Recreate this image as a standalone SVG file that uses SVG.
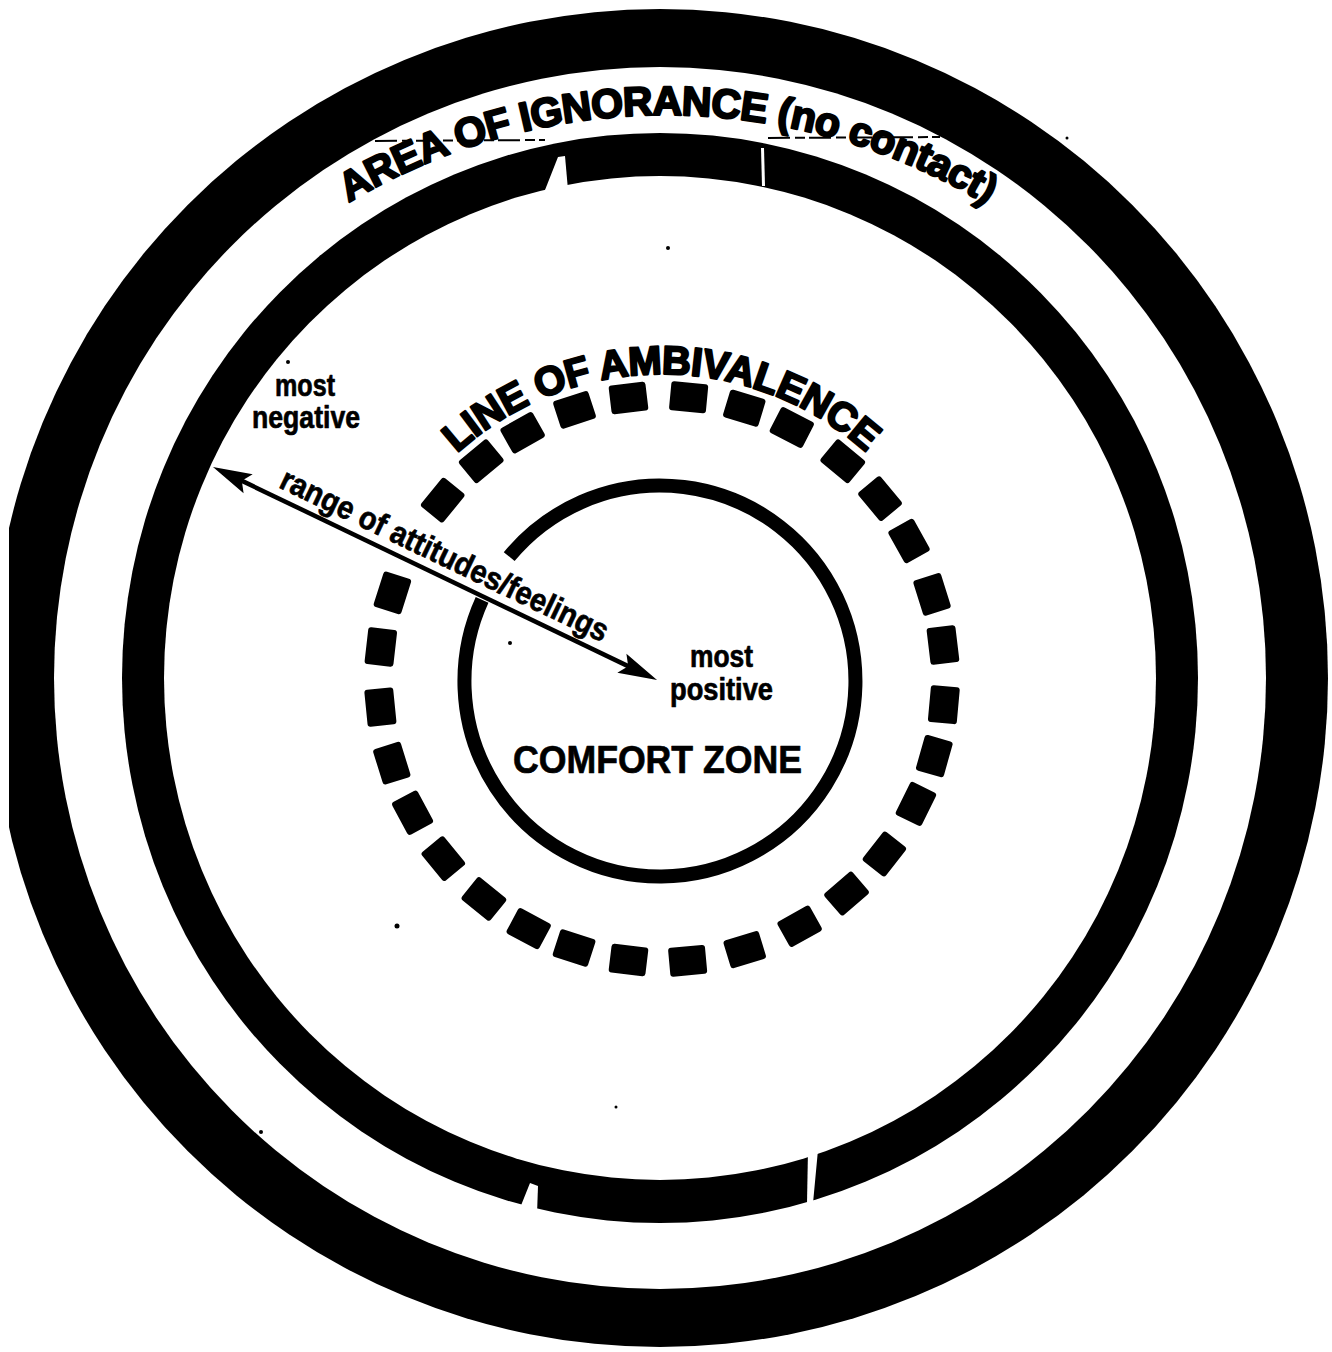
<svg xmlns="http://www.w3.org/2000/svg" xmlns:xlink="http://www.w3.org/1999/xlink" width="1332" height="1352" viewBox="0 0 1332 1352">
<style>
.t{font-family:"Liberation Sans",Arial,Helvetica,sans-serif;font-weight:bold;fill:#000}
.heavy{stroke:#000;stroke-width:2.2;stroke-linejoin:round}
.med{stroke:#000;stroke-width:0.7;stroke-linejoin:round}
.speck{fill:#000}
.crack{fill:#fff}
</style>
<defs>
<path id="ignPath" d="M 47,734 A 619,619 0 0 1 1285,734"/>
<path id="ambPath" d="M 357,679 A 305,305 0 0 1 967,679"/>
<rect id="dash" x="-14.5" y="-18.5" width="29" height="37" rx="3"/>
<marker id="arrowHead" markerUnits="userSpaceOnUse" viewBox="-20 -12 42 24" refX="0" refY="0" markerWidth="42" markerHeight="24" orient="auto-start-reverse">
<path d="M20,0 L-19,-10.5 L-12,0 L-19,10.5 Z" fill="#000"/>
</marker>
</defs>
<rect width="1332" height="1352" fill="#fff"/>

<g id="rings">
<ellipse cx="660" cy="678" rx="668" ry="669" fill="#000"/>
<ellipse cx="660" cy="678" rx="606" ry="611" fill="#fff"/>
<ellipse cx="660" cy="678" rx="538" ry="545" fill="#000"/>
<ellipse cx="660" cy="678" rx="496" ry="502" fill="#fff"/>
<rect x="0" y="0" width="9" height="1352" fill="#fff"/>
<polygon class="crack" points="545,190 558,157 565,156 568,190"/>
<polygon class="crack" points="761,148 764,148 765,186 762,186"/>
<polygon class="crack" points="518,1213 530,1183 538,1186 537,1214"/>
<polygon class="crack" points="808,1150 818,1150 813,1203 807,1203"/>
<path d="M375,141 L545,140 M768,138 L940,137" stroke="#000" stroke-width="2" stroke-dasharray="22 5 10 4" fill="none"/>
</g>

<g id="area-of-ignorance">
<text class="t heavy" font-size="41" letter-spacing="-0.7"><textPath xlink:href="#ignPath" href="#ignPath" startOffset="974" text-anchor="middle">AREA OF IGNORANCE (no contact)</textPath></text>
</g>

<g id="line-of-ambivalence" fill="#000">
<use href="#dash" transform="translate(662,679) rotate(5.2) translate(283,0)"/>
<use href="#dash" transform="translate(662,679) rotate(15.8) translate(283,0)"/>
<use href="#dash" transform="translate(662,679) rotate(26.2) translate(283,0)"/>
<use href="#dash" transform="translate(662,679) rotate(38.2) translate(283,0)"/>
<use href="#dash" transform="translate(662,679) rotate(49.3) translate(283,0)"/>
<use href="#dash" transform="translate(662,679) rotate(60.9) translate(283,0)"/>
<use href="#dash" transform="translate(662,679) rotate(73.0) translate(283,0)"/>
<use href="#dash" transform="translate(662,679) rotate(84.8) translate(283,0)"/>
<use href="#dash" transform="translate(662,679) rotate(96.8) translate(283,0)"/>
<use href="#dash" transform="translate(662,679) rotate(108.1) translate(283,0)"/>
<use href="#dash" transform="translate(662,679) rotate(118.1) translate(283,0)"/>
<use href="#dash" transform="translate(662,679) rotate(129.0) translate(283,0)"/>
<use href="#dash" transform="translate(662,679) rotate(140.6) translate(283,0)"/>
<use href="#dash" transform="translate(662,679) rotate(151.8) translate(283,0)"/>
<use href="#dash" transform="translate(662,679) rotate(162.7) translate(283,0)"/>
<use href="#dash" transform="translate(662,679) rotate(174.3) translate(283,0)"/>
<use href="#dash" transform="translate(662,679) rotate(186.5) translate(283,0)"/>
<use href="#dash" transform="translate(662,679) rotate(197.7) translate(283,0)"/>
<use href="#dash" transform="translate(662,679) rotate(219.2) translate(283,0)"/>
<use href="#dash" transform="translate(662,679) rotate(230.3) translate(283,0)"/>
<use href="#dash" transform="translate(662,679) rotate(240.5) translate(283,0)"/>
<use href="#dash" transform="translate(662,679) rotate(252.0) translate(283,0)"/>
<use href="#dash" transform="translate(662,679) rotate(263.2) translate(283,0)"/>
<use href="#dash" transform="translate(662,679) rotate(275.4) translate(283,0)"/>
<use href="#dash" transform="translate(662,679) rotate(286.9) translate(283,0)"/>
<use href="#dash" transform="translate(662,679) rotate(297.3) translate(283,0)"/>
<use href="#dash" transform="translate(662,679) rotate(309.7) translate(283,0)"/>
<use href="#dash" transform="translate(662,679) rotate(320.4) translate(283,0)"/>
<use href="#dash" transform="translate(662,679) rotate(330.8) translate(283,0)"/>
<use href="#dash" transform="translate(662,679) rotate(342.6) translate(283,0)"/>
<use href="#dash" transform="translate(662,679) rotate(353.1) translate(283,0)"/>
<text class="t heavy" font-size="40" letter-spacing="-0.5"><textPath xlink:href="#ambPath" href="#ambPath" startOffset="478" text-anchor="middle">LINE OF AMBIVALENCE</textPath></text>
</g>

<g id="comfort-zone">
<path d="M509.2,556.6 A195.5,195.5 0 1 1 482.1,599.9" fill="none" stroke="#000" stroke-width="14"/>
<text class="t med" x="513" y="773" font-size="39" textLength="289" lengthAdjust="spacingAndGlyphs">COMFORT ZONE</text>
</g>

<g id="most-negative">
<text class="t med" x="275" y="396" font-size="31" textLength="60" lengthAdjust="spacingAndGlyphs">most</text>
<text class="t med" x="252" y="428" font-size="31" textLength="108" lengthAdjust="spacingAndGlyphs">negative</text>
</g>

<g id="most-positive">
<text class="t med" x="690" y="667" font-size="31" textLength="63" lengthAdjust="spacingAndGlyphs">most</text>
<text class="t med" x="670" y="700" font-size="31" textLength="103" lengthAdjust="spacingAndGlyphs">positive</text>
</g>

<g id="connectors">
<path d="M231.0,475.6 L639.0,671.4" stroke="#000" stroke-width="4.5" fill="none" marker-start="url(#arrowHead)" marker-end="url(#arrowHead)"/>
<text class="t med" transform="translate(277.7,487) rotate(25.6)" font-size="32" textLength="360" lengthAdjust="spacingAndGlyphs">range of attitudes/feelings</text>
</g>

<g id="specks">
<circle class="speck" cx="288" cy="362" r="2"/>
<circle class="speck" cx="668" cy="248" r="2"/>
<circle class="speck" cx="510" cy="643" r="2"/>
<circle class="speck" cx="397" cy="926" r="2.5"/>
<circle class="speck" cx="616" cy="1107" r="1.5"/>
<circle class="speck" cx="261" cy="1132" r="2"/>
<circle class="speck" cx="1067" cy="138" r="1.5"/>
</g>
</svg>
